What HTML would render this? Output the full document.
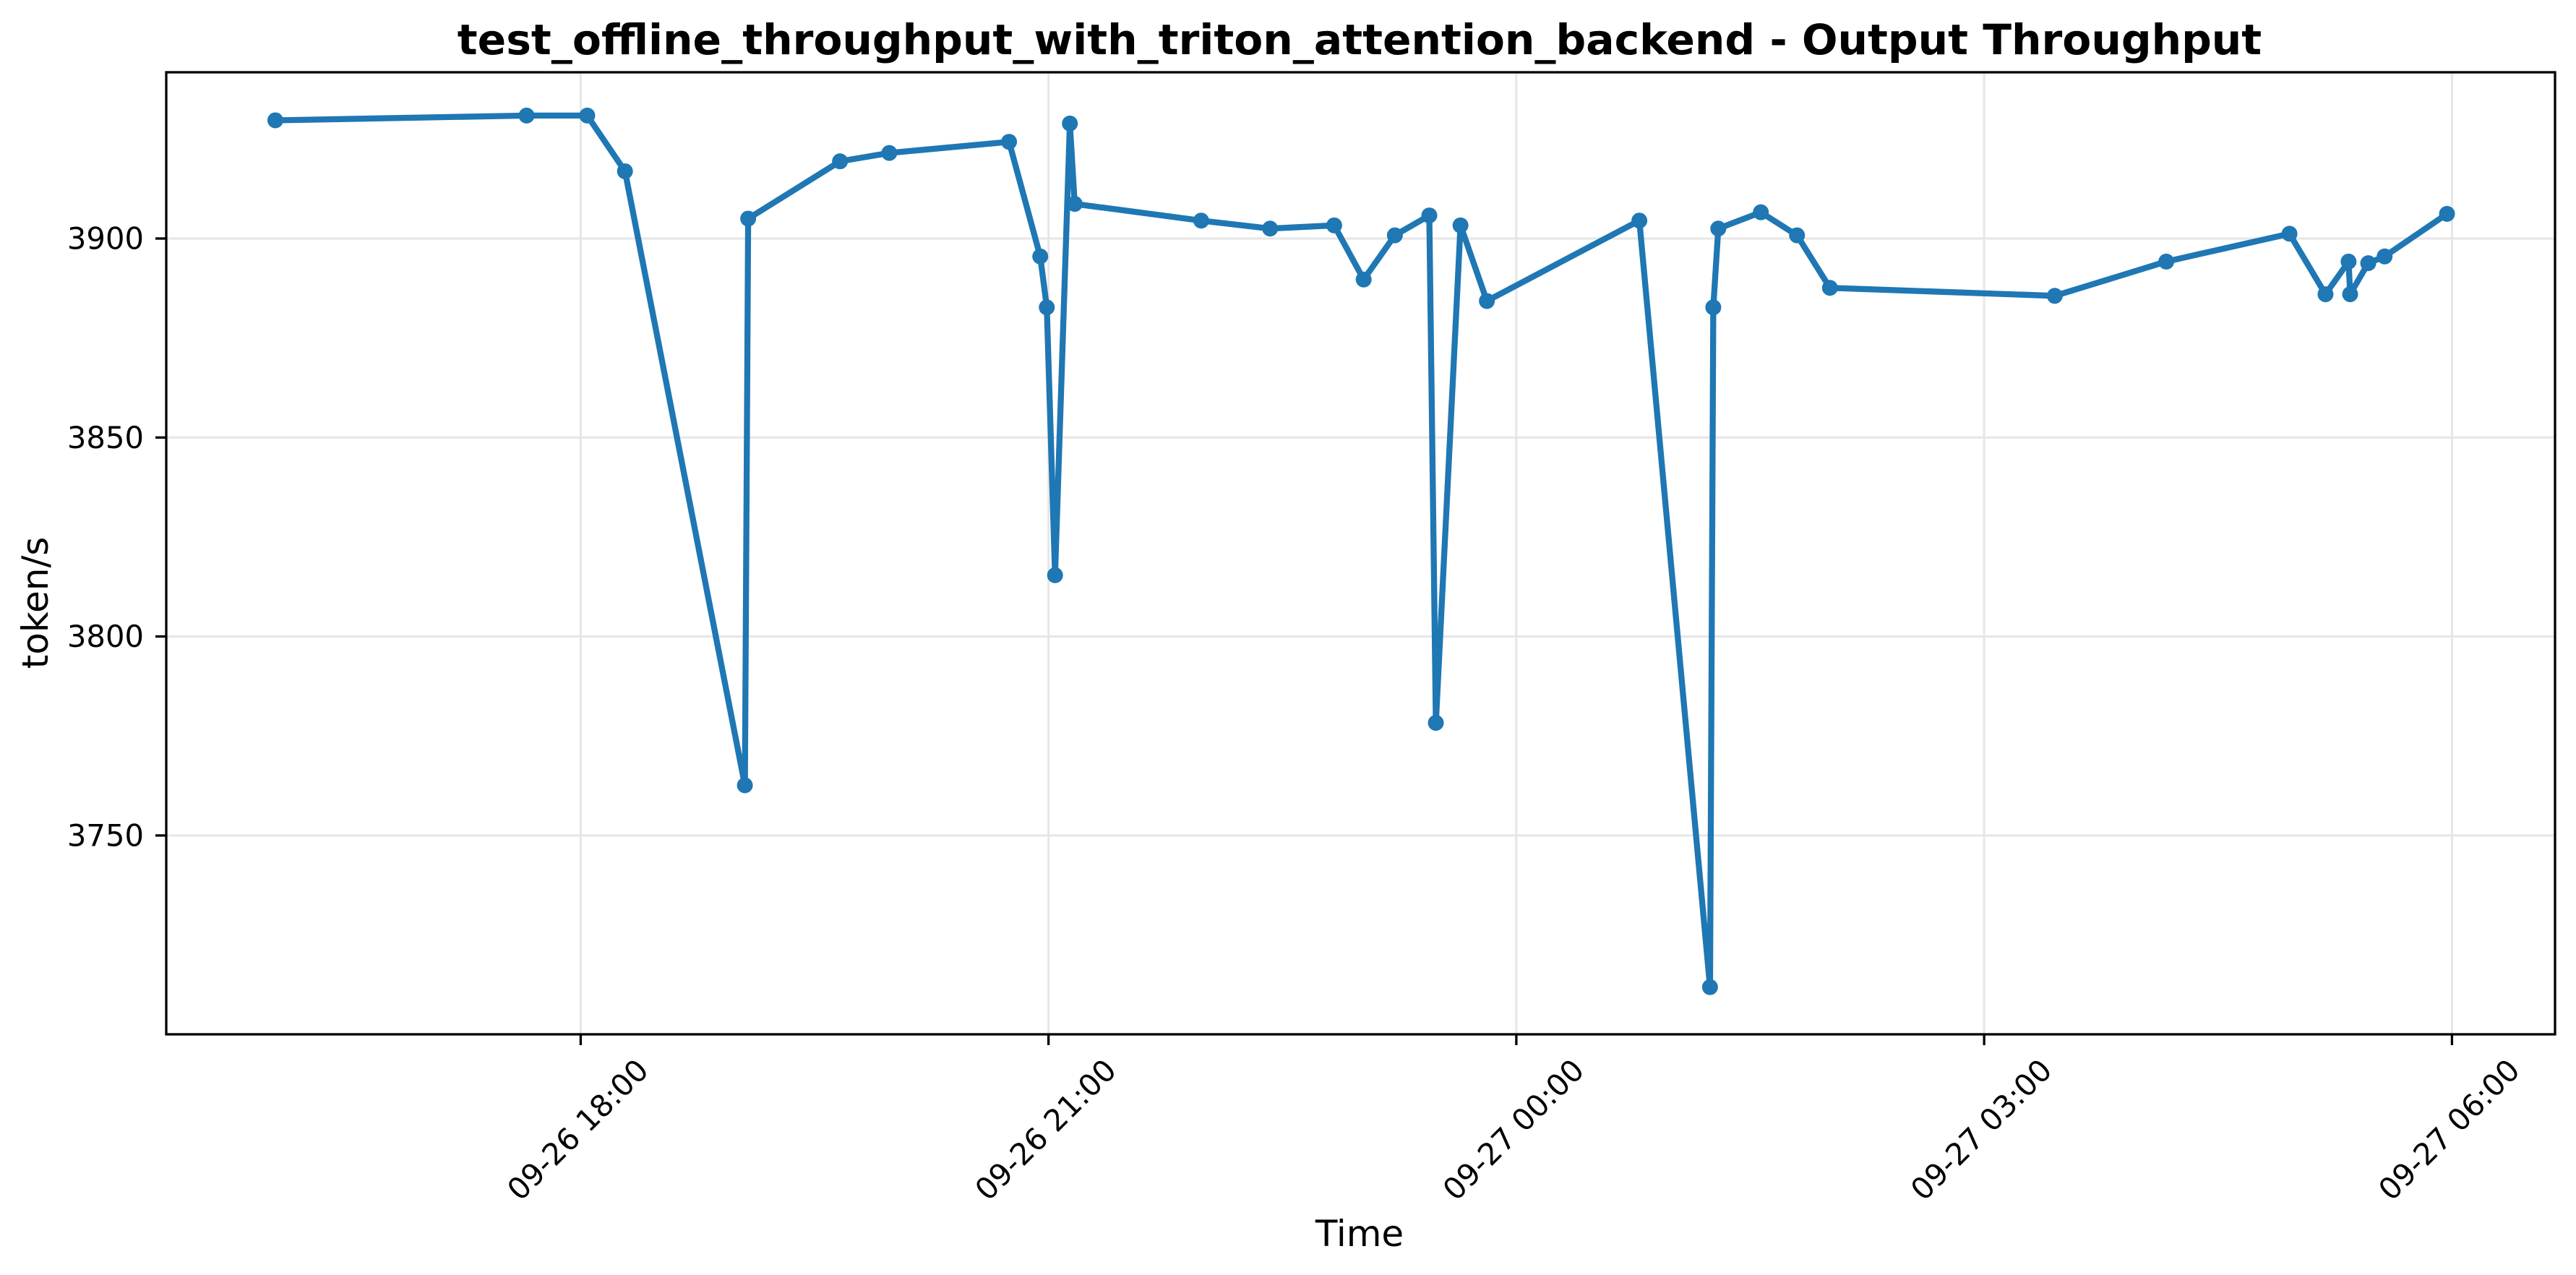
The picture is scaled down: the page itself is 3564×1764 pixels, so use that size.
<!DOCTYPE html>
<html><head><meta charset="utf-8"><style>
html,body{margin:0;padding:0;background:#fff}
svg{display:block}
text{font-family:"DejaVu Sans","Liberation Sans",sans-serif;fill:#000}
</style></head><body>
<svg id="chart" width="3564" height="1764" viewBox="0 0 3564 1764" xmlns="http://www.w3.org/2000/svg">
<rect width="3564" height="1764" fill="#fff"/>
<text x="1881" y="75" font-size="58.3" font-weight="bold" text-anchor="middle">test_offline_throughput_with_triton_attention_backend - Output Throughput</text>
<g id="grid"></g>
<g id="series"></g>
<rect x="230" y="100" width="3305" height="1331" fill="none" stroke="#000" stroke-width="3.3"/>
<g id="axes"></g>
<text transform="translate(66,834) rotate(-90)" font-size="50" text-anchor="middle">token/s</text>
<text x="1881" y="1724" font-size="50" text-anchor="middle">Time</text>
</svg>
<script>
// hours relative to 09-26 18:00
const hours = [-1.958,-0.347,0.042,0.284,1.053,1.074,1.663,1.979,2.747,2.947,2.989,3.042,3.137,3.168,3.979,4.421,4.832,5.021,5.221,5.442,5.484,5.642,5.811,6.789,7.242,7.263,7.295,7.568,7.8,8.011,9.453,10.168,10.958,11.189,11.337,11.347,11.463,11.568,11.968];
const throughput = [3929.7,3930.9,3930.9,3916.9,3762.6,3905,3919.4,3921.5,3924.3,3895.5,3882.7,3815.4,3928.9,3908.7,3904.5,3902.5,3903.3,3889.7,3900.8,3905.8,3778.3,3903.3,3884.3,3904.5,3711.9,3882.7,3902.5,3906.6,3900.8,3887.6,3885.6,3894.2,3901.2,3886,3894.2,3886,3893.8,3895.5,3906.2];
const xTickHours = [0,3,6,9,12];
const xTickLabels = ["09-26 18:00","09-26 21:00","09-27 00:00","09-27 03:00","09-27 06:00"];
const yTicks = [3750,3800,3850,3900];

const NS="http://www.w3.org/2000/svg";
function xs(h){return 803.4+h*215.75;}
function ys(v){return 330+(3900-v)*5.506;}
function mk(tag,attrs,parent){const e=document.createElementNS(NS,tag);for(const k in attrs)e.setAttribute(k,attrs[k]);parent.appendChild(e);return e;}
const grid=document.getElementById('grid'),axes=document.getElementById('axes'),series=document.getElementById('series');

xTickHours.forEach((h,i)=>{
  const x=xs(h);
  const g=mk('line',{x1:x,x2:x,y1:100,y2:1431,stroke:'#e6e6e6','stroke-width':3},grid);
  
  
  const t=mk('line',{x1:x,x2:x,y1:1431,y2:1446,stroke:'#000','stroke-width':3.3},axes);
  
  
  const lb=mk('text',{transform:`translate(${x-4},${1563}) rotate(-45)`,'font-size':41.7,'text-anchor':'middle','dominant-baseline':'central'},axes);
  lb.textContent=xTickLabels[i];
  
  
});
yTicks.forEach(v=>{
  const y=ys(v);
  const g=mk('line',{x1:230,x2:3535,y1:y,y2:y,stroke:'#e6e6e6','stroke-width':3},grid);
  
  
  const t=mk('line',{x1:215,x2:230,y1:y,y2:y,stroke:'#000','stroke-width':3.3},axes);
  
  
  const lb=mk('text',{x:199,y:y,'font-size':41.7,'text-anchor':'end','dominant-baseline':'central'},axes);
  lb.textContent=String(v);
  
  
});
const pts=hours.map((h,i)=>xs(h).toFixed(1)+','+ys(throughput[i]).toFixed(1)).join(' ');
const line=mk('polyline',{points:pts,fill:'none',stroke:'#1f77b4','stroke-width':8.3,'stroke-linejoin':'round','stroke-linecap':'round'},series);


hours.forEach((h,i)=>{
  const c=mk('circle',{cx:xs(h),cy:ys(throughput[i]),r:11,fill:'#1f77b4'},series);
  
  
});
</script>
</body></html>
